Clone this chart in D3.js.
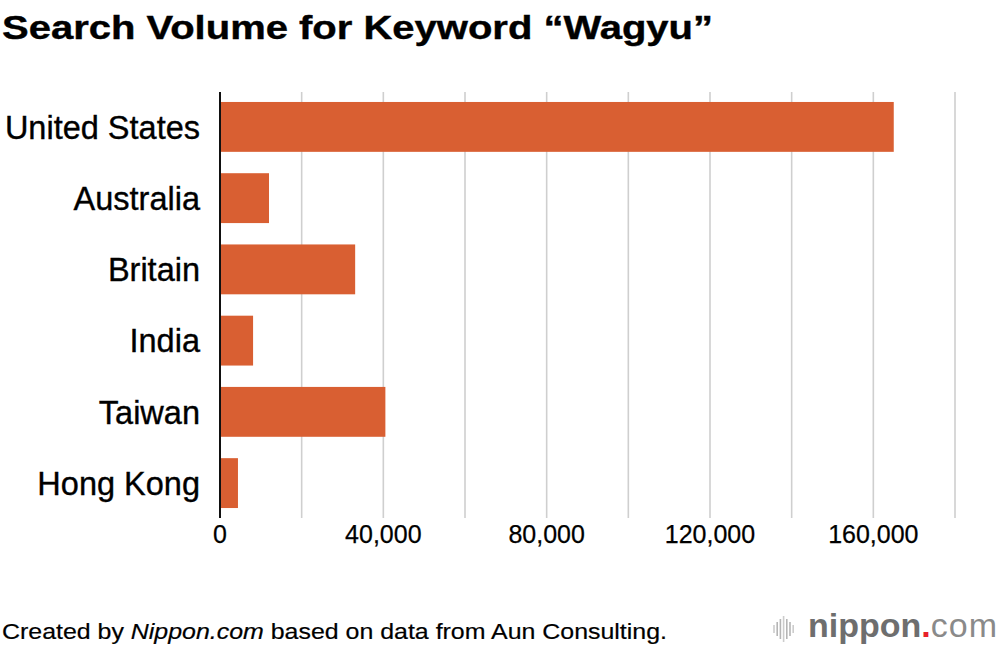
<!DOCTYPE html>
<html><head><meta charset="utf-8">
<script src="https://cdn.jsdelivr.net/npm/d3@7"></script>
<style>body{margin:0;background:#fff}svg{display:block}text{font-family:"Liberation Sans",Arial,Helvetica,sans-serif}</style>
</head><body>
<script>
const categories = ["United States","Australia","Britain","India","Taiwan","Hong Kong"];
const values = [165000, 12000, 33100, 8100, 40500, 4400];
const gridTicks = [0,20000,40000,60000,80000,100000,120000,140000,160000,180000];
const labelTicks = [0,40000,80000,120000,160000];
const title = "Search Volume for Keyword \u201CWagyu\u201D";

const W = 1000, H = 652;
const svg = d3.select("body").append("svg").attr("width", W).attr("height", H);

const x = d3.scaleLinear().domain([0,180000]).range([220,955]);
const y = d3.scaleBand().domain(categories).range([92,518]).paddingInner(0.3).paddingOuter(0.14);

// title
svg.append("text").attr("x",2).attr("y",39).attr("font-size",33.5).attr("font-weight","bold")
  .attr("fill","#000").attr("stroke","#000").attr("stroke-width",0.4)
  .attr("textLength",711).attr("lengthAdjust","spacingAndGlyphs").text(title);

// grid lines
svg.append("g").selectAll("line").data(gridTicks.filter(d=>d>0)).join("line")
  .attr("x1",d=>x(d)).attr("x2",d=>x(d)).attr("y1",92).attr("y2",518)
  .attr("stroke","#cfcfcf").attr("stroke-width",1.6);

// bars
svg.append("g").selectAll("rect").data(categories).join("rect")
  .attr("x",x(0)).attr("y",d=>y(d)).attr("height",y.bandwidth())
  .attr("width",(d,i)=>x(values[i])-x(0)).attr("fill","#d95f32");

// axis line
svg.append("line").attr("x1",x(0)).attr("x2",x(0)).attr("y1",92).attr("y2",518)
  .attr("stroke","#111").attr("stroke-width",2);

// category labels
svg.append("g").selectAll("text").data(categories).join("text")
  .attr("x",200).attr("y",d=>y(d)+y.bandwidth()/2).attr("dy","0.36em")
  .attr("text-anchor","end").attr("font-size",32.5).attr("fill","#000")
  .attr("stroke","#000").attr("stroke-width",0.35)
  .text(d=>d);

// x tick labels
const fmt = d3.format(",");
svg.append("g").selectAll("text").data(labelTicks).join("text")
  .attr("x",d=>x(d)).attr("y",543).attr("text-anchor","middle")
  .attr("font-size",25).attr("fill","#000").attr("stroke","#000").attr("stroke-width",0.25)
  .text(d=>fmt(d));

// footer
const f = svg.append("text").attr("x",2).attr("y",639).attr("font-size",22).attr("fill","#000")
  .attr("stroke","#000").attr("stroke-width",0.2)
  .attr("textLength",665).attr("lengthAdjust","spacingAndGlyphs");
f.append("tspan").text("Created by ");
f.append("tspan").attr("font-style","italic").text("Nippon.com");
f.append("tspan").text(" based on data from Aun Consulting.");

// logo
const icon = [8,14,20,26,20,14,8];
svg.append("g").selectAll("line").data(icon).join("line")
  .attr("x1",(d,i)=>774+i*3.2).attr("x2",(d,i)=>774+i*3.2)
  .attr("y1",d=>629-d/2).attr("y2",d=>629+d/2)
  .attr("stroke",(d,i)=> i%3===0 ? "#ccc" : "#b5b5b5").attr("stroke-width",1.6);
const lg = svg.append("text").attr("y",637).attr("font-family","'Open Sans',sans-serif").attr("font-size",34);
lg.append("tspan").attr("x",808).attr("font-weight","bold").attr("fill","#6e6e6e").text("nippon");
lg.append("tspan").attr("fill","#e8202a").attr("font-weight","bold").text(".");
lg.append("tspan").attr("fill","#8a8a8a").attr("font-weight",300).attr("letter-spacing",1).text("com");
</script>
</body></html>
